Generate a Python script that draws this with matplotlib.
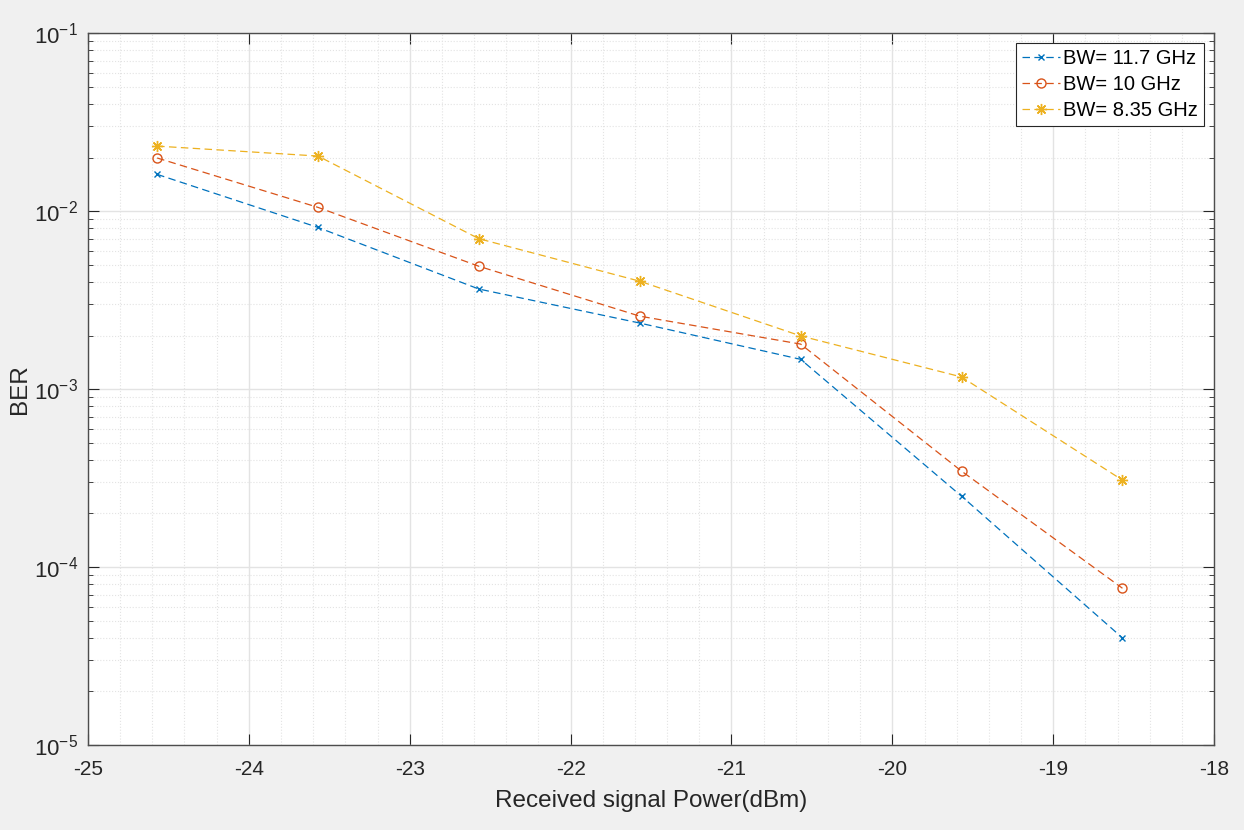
import matplotlib
matplotlib.use('Agg')
import matplotlib.pyplot as plt
from matplotlib.ticker import LogLocator, MultipleLocator, NullFormatter

power = [-24.57, -23.57, -22.57, -21.57, -20.57, -19.57, -18.57]
ber_117 = [0.0161, 0.0081, 0.00365, 0.00235, 0.00147, 2.5e-4, 4.0e-5]
ber_10 = [0.0199, 0.0105, 0.0049, 0.00257, 0.00179, 3.46e-4, 7.6e-5]
ber_835 = [0.0232, 0.0204, 0.0070, 0.00404, 0.00199, 1.17e-3, 3.08e-4]
labels = ['BW= 11.7 GHz', 'BW= 10 GHz', 'BW= 8.35 GHz']
colors = ['#0072BD', '#D95319', '#EDB120']

plt.rcParams['font.family'] = ['Liberation Sans', 'DejaVu Sans']
plt.rcParams['axes.unicode_minus'] = False
plt.rcParams['mathtext.fontset'] = 'custom'
plt.rcParams['mathtext.rm'] = 'Liberation Sans'
plt.rcParams['mathtext.default'] = 'regular'

fig = plt.figure(figsize=(12.44, 8.30), dpi=100, facecolor='#f0f0f0')
ax = fig.add_axes([0.0707, 0.1024, 0.9053, 0.8576])

dash = (6, 3.5)
ax.plot(power, ber_117, '--x', color=colors[0], lw=0.9, ms=5, mew=1, dashes=dash, label=labels[0])
ax.plot(power, ber_10, '--o', color=colors[1], lw=0.9, ms=6.5, mew=1, mfc='none', dashes=dash, label=labels[1])
ax.plot(power, ber_835, '--', marker=(8, 2, 0), color=colors[2], lw=0.9, ms=8, mew=1,
        dashes=dash, label=labels[2])

ax.set_yscale('log')
ax.set_xlim(-25, -18)
ax.set_ylim(1e-5, 1e-1)
ax.xaxis.set_major_locator(MultipleLocator(1))
ax.xaxis.set_minor_locator(MultipleLocator(0.2))
ax.yaxis.set_major_locator(LogLocator(base=10, numticks=10))
ax.yaxis.set_minor_locator(LogLocator(base=10, subs=range(2, 10), numticks=10))
ax.yaxis.set_minor_formatter(NullFormatter())

ax.grid(True, which='major', color='#e3e3e3', lw=1, ls='-')
ax.grid(True, which='minor', color='#e3e3e3', lw=0.8, ls=':')
ax.set_axisbelow(True)

ax.tick_params(which='both', direction='in', top=True, right=True,
               colors='#262626', labelsize=15)
ax.tick_params(which='major', length=8)
ax.tick_params(which='minor', length=3.6)
ax.tick_params(axis='x', which='minor', length=0)
ax.tick_params(axis='x', which='major', pad=11)
ax.tick_params(axis='y', which='major', pad=7, labelsize=16)
for s in ax.spines.values():
    s.set_color('#4d4d4d')
    s.set_linewidth(1)

ax.set_xlabel('Received signal Power(dBm)', fontsize=17.5, color='#262626', labelpad=8)
ax.set_ylabel('BER', fontsize=17.5, color='#262626', labelpad=2)

leg = ax.legend(loc='upper right', fontsize=14.5, fancybox=False, framealpha=1,
                edgecolor='#262626', borderaxespad=0.5, handlelength=1.9,
                borderpad=0.3, labelspacing=0.35, handletextpad=0.15)
leg.get_frame().set_linewidth(0.8)

fig.savefig('out.png', dpi=100, facecolor=fig.get_facecolor())
